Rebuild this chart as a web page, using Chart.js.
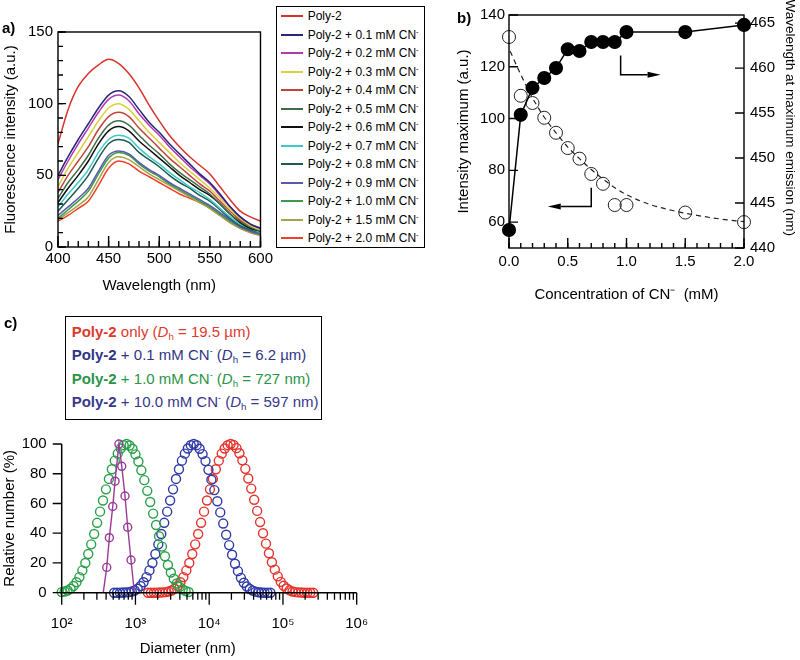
<!DOCTYPE html>
<html>
<head>
<meta charset="utf-8">
<title>Poly-2 / CN- response</title>
<script src="https://cdn.jsdelivr.net/npm/chart.js@4.4.1/dist/chart.umd.min.js"></script>
<style>
    body { margin: 0; background: #fff; font-family: "Liberation Sans", Arial, sans-serif; color: #000; }
    #wrapper { position: relative; width: 800px; height: 660px; overflow: hidden; }
    canvas { position: absolute; }
    .tag { position: absolute; font-weight: bold; font-size: 15px; }
    sup { font-size: 0.6em; vertical-align: 0.7em; line-height: 0; }
    sub { font-size: 0.65em; vertical-align: -0.3em; line-height: 0; }
    #legA { position: absolute; left: 276px; top: 6px; width: 149px; height: 242px; border: 1.3px solid #000;
            box-sizing: border-box; background: #fff; font-size: 12px; }
    #legA div { height: 18.5px; display: flex; align-items: center; white-space: nowrap; }
    #legA .ln { display: inline-block; width: 22px; height: 1.6px; margin: 0 5px 0 3.7px; }
    #legC { position: absolute; left: 65px; top: 316px; width: 257px; height: 104px; border: 1.3px solid #000;
            box-sizing: border-box; background: #fff; font-size: 15px; padding: 3px 0 0 5.7px; }
    #legC div { height: 23.3px; line-height: 23.3px; white-space: nowrap; }
</style>
</head>
<body>
<div id="wrapper">
    <canvas id="ca" width="276" height="310" style="left:0;top:0"></canvas>
    <canvas id="cb" width="360" height="310" style="left:440px;top:0"></canvas>
    <canvas id="cc" width="400" height="240" style="left:0;top:420px"></canvas>
    <div id="legA"></div>
    <div id="legC"></div>
    <div class="tag" style="left:2px;top:19px">a)</div>
    <div class="tag" style="left:457px;top:9px">b)</div>
    <div class="tag" style="left:4px;top:314px">c)</div>
</div>
<script>
"use strict"

// ---------- a) emission spectra ----------
const wavelengths = [400, 410, 420, 430, 440, 450, 460, 470, 480, 490, 500, 510, 520, 530, 540, 550, 560, 570, 580, 590, 600];
const specPoly2 = [72, 96, 112, 121, 127, 131, 128, 121, 111, 99, 88, 78, 70, 63, 57, 51, 42, 33, 25, 21, 18];
const spec01 = [50, 63, 75, 86, 97, 106, 109, 105, 96, 87, 80, 72, 65, 58, 51, 45, 37, 28, 21, 16, 13];
const spec02 = [47, 60, 72, 83, 94, 103, 106, 102, 93, 85, 78, 70, 63, 56, 50, 44, 36, 28, 21, 16, 13];
const spec03 = [42, 55, 66, 77, 88, 97, 100, 96, 88, 80, 73, 66, 59, 53, 47, 41, 34, 26, 20, 15, 12];
const spec04 = [38, 50, 60, 70, 82, 91, 94, 91, 83, 76, 69, 62, 56, 50, 44, 39, 32, 25, 19, 15, 12];
const spec05 = [34, 45, 54, 64, 76, 85, 88, 85, 78, 71, 65, 58, 52, 47, 42, 37, 30, 23, 18, 14, 11];
const spec06 = [31, 41, 50, 60, 72, 81, 84, 81, 74, 68, 62, 56, 50, 45, 40, 36, 30, 23, 17, 13, 11];
const spec07 = [28, 37, 45, 54, 66, 75, 78, 76, 69, 63, 58, 52, 47, 42, 38, 33, 27, 21, 16, 13, 10];
const spec08 = [25, 33, 41, 50, 62, 72, 75, 73, 66, 61, 56, 50, 45, 41, 36, 32, 26, 20, 15, 12, 10];
const spec09 = [22, 28, 34, 41, 53, 64, 67, 65, 59, 54, 50, 45, 41, 37, 33, 29, 24, 19, 14, 11, 9];
const spec10 = [20, 26, 32, 39, 51, 62, 66, 64, 58, 53, 49, 44, 40, 36, 32, 28, 23, 18, 14, 11, 9];
const spec15 = [19, 24, 29, 35, 47, 59, 63, 61, 56, 51, 47, 43, 39, 35, 31, 27, 22, 17, 13, 10, 8];
const spec20 = [18, 22, 27, 32, 43, 55, 60, 58, 53, 49, 45, 41, 37, 34, 31, 27, 22, 17, 13, 10, 8];
const spectra = [specPoly2, spec01, spec02, spec03, spec04, spec05, spec06, spec07, spec08, spec09, spec10, spec15, spec20];
const spectraLabels = ["Poly-2", "Poly-2 + 0.1 mM CN", "Poly-2 + 0.2 mM CN", "Poly-2 + 0.3 mM CN", "Poly-2 + 0.4 mM CN",
    "Poly-2 + 0.5 mM CN", "Poly-2 + 0.6 mM CN", "Poly-2 + 0.7 mM CN", "Poly-2 + 0.8 mM CN", "Poly-2 + 0.9 mM CN",
    "Poly-2 + 1.0 mM CN", "Poly-2 + 1.5 mM CN", "Poly-2 + 2.0 mM CN"];
const spectraColors = ["#d8322c", "#27287a", "#b23ab0", "#d9d13a", "#c0453b", "#3f6e48", "#111111",
    "#3ec8c8", "#1d5a56", "#5a58b0", "#3c9a4a", "#a8a448", "#f0402a"];
const ticksAx = [400, 450, 500, 550, 600];
const ticksAy = [0, 50, 100, 150];

// ---------- b) intensity / wavelength maximum ----------
const cnConc = [0.0, 0.1, 0.2, 0.3, 0.4, 0.5, 0.6, 0.7, 0.8, 0.9, 1.0, 1.5, 2.0];
const intensityMax = [131.5, 108.8, 106, 100.3, 94.5, 88.6, 84.5, 78.6, 74.8, 66.6, 66.6, 63.7, 60];
const wavelengthMax = [442, 454.8, 457.8, 458.9, 460, 462.1, 461.9, 462.9, 462.9, 462.9, 464, 464, 464.8];
const fitConc = [0.01, 0.1, 0.2, 0.3, 0.4, 0.5, 0.6, 0.7, 0.8, 0.9, 1.0, 1.2, 1.4, 1.6, 1.8, 2.0];
const fitIntensity = [126, 117, 108, 100.5, 94.5, 89, 84.5, 80.3, 76.6, 73.3, 70.6, 66.8, 64.4, 62.6, 61.2, 60.2];
const ticksBx = [0, 0.5, 1.0, 1.5, 2.0];
const ticksBy = [60, 80, 100, 120, 140];
const ticksBy2 = [440, 445, 450, 455, 460, 465];

// ---------- c) DLS size distributions ----------
const dlsStep = 0.04;          // log10 spacing of the size bins
const redStart = 3.17;
const redN = [0, 0, 0, 0, 0.1, 0.2, 0.4, 0.8, 1.5, 2.7, 4.5, 7, 10.5, 15, 20, 26, 32.5, 39.5, 47, 54.5, 62, 69.5, 76.5, 83, 88.8, 93.5, 97, 99.2,
    100, 99.3, 97.2, 93.8, 89, 83.3, 76.8, 70, 62.5, 55, 47.5, 40, 33, 26.5, 20.5, 15.5, 11, 7.3, 4.7, 2.8, 1.6, 0.8, 0.4, 0.2, 0.1, 0, 0, 0, 0];
const blueStart = 2.71;
const blueN = [0, 0, 0, 0.1, 0.2, 0.4, 0.8, 1.5, 2.7, 4.5, 7, 10.5, 15, 20, 26, 32.5, 39.5, 47, 54.5, 62, 69.5, 76.5, 83, 88.8, 93.5, 97, 99.2,
    100, 99.2, 96.8, 93.2, 88.5, 82.6, 76, 69, 61.5, 54, 46.5, 39, 32, 25.5, 19.5, 14.5, 10, 6.7, 4.2, 2.5, 1.4, 0.7, 0.3, 0.1, 0, 0, 0];
const greenStart = 2.00;
const greenN = [0.4, 0.8, 1.5, 2.7, 4.5, 7, 10.5, 15, 20, 26, 32.5, 39.5, 47, 54.5, 62, 69.5, 76.5, 83, 88.8, 93.5, 97, 99.2,
    100, 99, 96.8, 93, 88.2, 82.3, 75.7, 68.5, 61, 53.2, 45.5, 38, 31, 24.5, 18.6, 13.6, 9.4, 6.2, 3.9, 2.2, 1.1, 0.5];
const purpleD = [366, 408, 443, 492, 529, 597, 652, 722, 785, 871, 966];
const purpleN = [0, 17, 37, 58, 75, 100, 85, 65, 44, 22, 0];
const dlsColors = { red: "#e4332c", blue: "#2f3aa6", green: "#2ba04a", purple: "#983c98" };
const ticksCx = [100, 1000, 10000, 100000, 1000000];
const ticksCy = [0, 20, 40, 60, 80, 100];
const supText = { 100: "10\u00B2", 1000: "10\u00B3", 10000: "10\u2074", 100000: "10\u2075", 1000000: "10\u2076" };

Chart.defaults.font.family = "'Liberation Sans', Arial, sans-serif";
Chart.defaults.font.size = 15;
Chart.defaults.color = "#000";
Chart.defaults.animation = false;
Chart.defaults.plugins.legend.display = false;
Chart.defaults.plugins.tooltip.enabled = false;

function fixedTicks(list) {
    return function (scale) {
        scale.ticks = list.map(v => ({ value: v }));
    };
}

function drawTicks(chart, id, edge, values, len, dir) {
    let ctx = chart.ctx;
    let s = chart.scales[id];
    let a = chart.chartArea;
    ctx.beginPath();
    for (const v of values) {
        let p = s.getPixelForValue(v);
        if (edge == "bottom") {
            ctx.moveTo(p, a.bottom);
            ctx.lineTo(p, a.bottom + dir * len);
        } else {
            let x0 = edge == "left" ? a.left : a.right;
            ctx.moveTo(x0, p);
            ctx.lineTo(x0 + dir * len, p);
        }
    }
    ctx.stroke();
}

function range(from, to, step) {
    let out = [];
    for (let v = from; v <= to + 1e-9; v += step) out.push(Math.round(v * 1000) / 1000);
    return out;
}

function plainAxis(extra) {
    return Object.assign({
        grid: { display: false, drawTicks: false },
        border: { display: false },
        ticks: { maxRotation: 0, autoSkip: false, font: { size: 15 } }
    }, extra);
}

// ---------- chart a ----------
new Chart(document.getElementById("ca"), {
    type: "line",
    data: {
        datasets: spectra.map((serie, i) => ({
            label: spectraLabels[i],
            data: serie.map((v, k) => ({ x: wavelengths[k], y: v })),
            borderColor: spectraColors[i],
            borderWidth: 1.5,
            pointRadius: 0,
            cubicInterpolationMode: "monotone"
        }))
    },
    options: {
        responsive: false,
        layout: { padding: { top: 32, right: 4, left: 0, bottom: 0 } },
        scales: {
            x: plainAxis({
                type: "linear", min: 400, max: 600,
                afterFit: s => { s.height = 63; },
                afterBuildTicks: fixedTicks(ticksAx),
                ticks: { maxRotation: 0, autoSkip: false, padding: 3 },
                title: { display: true, text: "Wavelength (nm)", font: { size: 15 }, padding: { top: 0, bottom: 15 } }
            }),
            y: plainAxis({
                min: 0, max: 150,
                afterFit: s => { s.width = 58; },
                afterBuildTicks: fixedTicks(ticksAy),
                ticks: { padding: 5 },
                title: { display: true, text: "Fluorescence intensity (a.u.)", font: { size: 15 }, padding: { top: 2 } }
            })
        }
    },
    plugins: [{
        id: "frameA",
        afterDraw(chart) {
            let ctx = chart.ctx, a = chart.chartArea;
            ctx.save();
            ctx.strokeStyle = "#000";
            ctx.lineWidth = 1.4;
            ctx.strokeRect(a.left, a.top, a.right - a.left, a.bottom - a.top);
            drawTicks(chart, "x", "bottom", ticksAx, 11, -1);
            drawTicks(chart, "x", "bottom", range(400, 600, 10), 6, -1);
            drawTicks(chart, "y", "left", ticksAy, 8, 1);
            drawTicks(chart, "y", "left", range(0, 150, 10), 5, 1);
            ctx.restore();
        }
    }]
});

let legA = document.getElementById("legA");
spectraLabels.forEach((lab, i) => {
    let row = document.createElement("div");
    let txt = lab.endsWith("CN") ? lab + "<sup>-</sup>" : lab;
    row.innerHTML = `<span class="ln" style="background:${spectraColors[i]}"></span><span>${txt}</span>`;
    legA.appendChild(row);
});

// ---------- chart b ----------
function arrowPath(ctx, pts, headLen, headHalf) {
    ctx.beginPath();
    let n = pts.length;
    let [tx, ty] = pts[n - 1];
    let [px, py] = pts[n - 2];
    let dirx = Math.sign(tx - px);
    ctx.moveTo(pts[0][0], pts[0][1]);
    for (let i = 1; i < n - 1; i++) ctx.lineTo(pts[i][0], pts[i][1]);
    ctx.lineTo(tx - dirx * headLen, ty);
    ctx.stroke();
    ctx.beginPath();
    ctx.moveTo(tx, ty);
    ctx.lineTo(tx - dirx * headLen, ty - headHalf);
    ctx.lineTo(tx - dirx * headLen, ty + headHalf);
    ctx.closePath();
    ctx.fill();
}

new Chart(document.getElementById("cb"), {
    type: "scatter",
    data: {
        datasets: [{
            label: "Wavelength at maximum emission",
            data: cnConc.map((c, i) => ({ x: c, y: wavelengthMax[i] })),
            yAxisID: "y2",
            showLine: true,
            borderColor: "#000",
            borderWidth: 1.5,
            pointRadius: 6.3,
            pointBackgroundColor: "#000",
            pointBorderColor: "#000",
            clip: false
        }, {
            label: "Intensity maximum",
            data: cnConc.map((c, i) => ({ x: c, y: intensityMax[i] })),
            yAxisID: "y",
            showLine: false,
            pointRadius: 6.5,
            pointBorderWidth: 1,
            pointBorderColor: "#222",
            pointBackgroundColor: "rgba(0,0,0,0)",
            clip: false
        }, {
            label: "fit",
            data: fitConc.map((c, i) => ({ x: c, y: fitIntensity[i] })),
            yAxisID: "y",
            showLine: true,
            borderColor: "#222",
            borderWidth: 1.2,
            borderDash: [5, 4],
            pointRadius: 0,
            cubicInterpolationMode: "monotone",
            clip: false
        }]
    },
    options: {
        responsive: false,
        layout: { padding: { top: 13, right: 0, left: 0, bottom: 0 } },
        scales: {
            x: plainAxis({
                type: "linear", min: 0, max: 2,
                afterFit: s => { s.height = 62; },
                afterBuildTicks: fixedTicks(ticksBx),
                ticks: { padding: 5, callback: v => v.toFixed(1) },
                title: { display: true, text: "Concentration of CN\u207B  (mM)", font: { size: 15 }, padding: { top: 0, bottom: 6.6 } }
            }),
            y: plainAxis({
                position: "left", min: 50, max: 140,
                afterFit: s => { s.width = 69; },
                afterBuildTicks: fixedTicks(ticksBy),
                ticks: { padding: 4 },
                title: { display: true, text: "Intensity maximum (a.u.)", font: { size: 15 }, padding: { top: 14.6 } }
            }),
            y2: plainAxis({
                position: "right", min: 440, max: 465.9,
                afterFit: s => { s.width = 56; },
                afterBuildTicks: fixedTicks(ticksBy2),
                ticks: { padding: 6 }
            })
        }
    },
    plugins: [{
        id: "frameB",
        afterDraw(chart) {
            let ctx = chart.ctx, a = chart.chartArea;
            let sx = chart.scales.x, sy = chart.scales.y, sy2 = chart.scales.y2;
            ctx.save();
            ctx.strokeStyle = "#000";
            ctx.fillStyle = "#000";
            ctx.lineWidth = 1.4;
            ctx.strokeRect(a.left, a.top, a.right - a.left, a.bottom - a.top);
            drawTicks(chart, "x", "bottom", ticksBx, 10, -1);
            drawTicks(chart, "x", "bottom", range(0, 2, 0.1), 5, -1);
            drawTicks(chart, "y", "left", ticksBy, 9, 1);
            drawTicks(chart, "y2", "right", ticksBy2, 9, -1);

            // arrows pointing at the axis each series belongs to
            ctx.lineWidth = 1.5;
            arrowPath(ctx, [
                [sx.getPixelForValue(0.70), sy.getPixelForValue(73.3)],
                [sx.getPixelForValue(0.70), sy.getPixelForValue(66)],
                [sx.getPixelForValue(0.33), sy.getPixelForValue(66)]
            ], 13, 3);
            arrowPath(ctx, [
                [sx.getPixelForValue(0.95), sy2.getPixelForValue(461.4)],
                [sx.getPixelForValue(0.95), sy2.getPixelForValue(459.25)],
                [sx.getPixelForValue(1.29), sy2.getPixelForValue(459.25)]
            ], 13, 3);

            // right axis title, rotated to read top-down
            ctx.font = "13.5px 'Liberation Sans', Arial, sans-serif";
            ctx.textAlign = "right";
            ctx.textBaseline = "middle";
            ctx.translate(350, 236);
            ctx.rotate(Math.PI / 2);
            ctx.fillText("Wavelength at maximum emission (nm)", 0, 0);
            ctx.restore();
        }
    }]
});

// ---------- chart c ----------
function dlsPoints(startExp, values) {
    return values.map((v, i) => ({ x: Math.pow(10, startExp + i * dlsStep), y: v }));
}

function ringSet(label, pts, color) {
    return {
        label: label,
        data: pts,
        showLine: false,
        pointRadius: 4.5,
        pointBorderWidth: 1.4,
        pointBorderColor: color,
        pointBackgroundColor: "rgba(0,0,0,0)",
        clip: false
    };
}

let purpleSet = ringSet("10.0 mM", purpleD.map((d, i) => ({ x: d, y: purpleN[i] })), dlsColors.purple);
purpleSet.showLine = true;
purpleSet.borderColor = dlsColors.purple;
purpleSet.borderWidth = 1.4;
purpleSet.pointRadius = purpleN.map((v, i) => (i == 0 || i == purpleN.length - 1) ? 0 : 4.0);

new Chart(document.getElementById("cc"), {
    type: "scatter",
    data: {
        datasets: [
            purpleSet,
            ringSet("1.0 mM", dlsPoints(greenStart, greenN), dlsColors.green),
            ringSet("0.1 mM", dlsPoints(blueStart, blueN), dlsColors.blue),
            ringSet("only", dlsPoints(redStart, redN), dlsColors.red)
        ]
    },
    options: {
        responsive: false,
        layout: { padding: { top: 14, right: 43.3, left: 0, bottom: 0 } },
        scales: {
            x: plainAxis({
                type: "logarithmic", min: 100, max: 1000000,
                afterFit: s => { s.height = 67.3; },
                afterBuildTicks: fixedTicks(ticksCx),
                ticks: { padding: 22, callback: v => supText[v] || "" }
            }),
            y: plainAxis({
                min: 0, max: 100,
                afterFit: s => { s.width = 61.7; },
                afterBuildTicks: fixedTicks(ticksCy),
                ticks: { padding: 15 },
                title: { display: true, text: "Relative number (%)", font: { size: 15 }, padding: { top: 1 } }
            })
        }
    },
    plugins: [{
        id: "axesC",
        afterDraw(chart) {
            let ctx = chart.ctx, a = chart.chartArea;
            let sx = chart.scales.x, sy = chart.scales.y;
            let minor = [];
            for (const dec of [100, 1000, 10000, 100000]) {
                for (let m = 2; m <= 9; m++) minor.push(dec * m);
            }
            ctx.save();
            ctx.strokeStyle = "#000";
            ctx.lineWidth = 1.5;
            ctx.beginPath();
            ctx.moveTo(a.left, sy.getPixelForValue(100));
            ctx.lineTo(a.left, a.bottom);
            ctx.lineTo(sx.getPixelForValue(1000000), a.bottom);
            ctx.stroke();
            ctx.lineWidth = 1.3;
            drawTicks(chart, "x", "bottom", ticksCx, 12, 1);
            drawTicks(chart, "x", "bottom", minor, 7, 1);
            drawTicks(chart, "y", "left", ticksCy, 9, -1);
            ctx.font = "15px 'Liberation Sans', Arial, sans-serif";
            ctx.fillStyle = "#000";
            ctx.textAlign = "center";
            ctx.textBaseline = "middle";
            ctx.fillText("Diameter (nm)", a.left + 126, 229);
            ctx.restore();
        }
    }]
});

let legC = document.getElementById("legC");
const legCRows = [
    ["#dc3a2e", " only (<i>D</i><sub>h</sub> = 19.5 \u00B5m)"],
    ["#2f3586", " + 0.1 mM CN<sup>-</sup> (<i>D</i><sub>h</sub> = 6.2 \u00B5m)"],
    ["#2a9448", " + 1.0 mM CN<sup>-</sup> (<i>D</i><sub>h</sub> = 727 nm)"],
    ["#38388c", " + 10.0 mM CN<sup>-</sup> (<i>D</i><sub>h</sub> = 597 nm)"]
];
for (const r of legCRows) {
    let row = document.createElement("div");
    row.style.color = r[0];
    row.innerHTML = "<b>Poly-2</b>" + r[1];
    legC.appendChild(row);
}
</script>
</body>
</html>
